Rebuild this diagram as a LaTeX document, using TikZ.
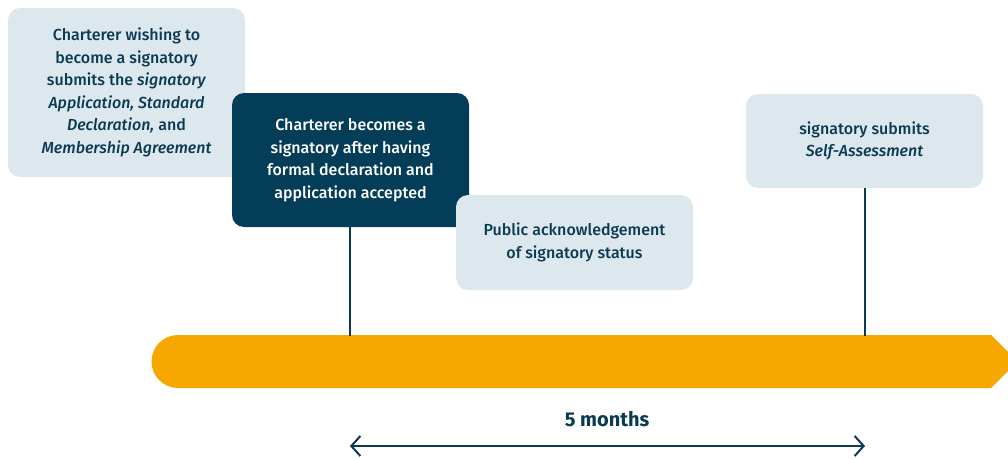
\documentclass[tikz,border=0pt]{standalone}
\usepackage{fontspec}
\setmainfont{Fira Sans}[UprightFont=* Medium, ItalicFont=* Medium Italic, BoldFont=* Bold]
\usetikzlibrary{arrows.meta}
\definecolor{lightbox}{HTML}{DDE7EE}
\definecolor{darkbox}{HTML}{033D57}
\definecolor{ink}{HTML}{0B3B52}
\definecolor{bar}{HTML}{F6A800}
\tikzset{
  card/.style={rectangle, rounded corners=12pt, minimum width=237pt, align=center, inner sep=0pt, font=\fontsize{16}{22.5}\selectfont},
  lightcard/.style={card, fill=lightbox, text=ink},
  darkcard/.style={card, fill=darkbox, text=white},
  stem/.style={draw=ink, line width=1.5pt},
}
\begin{document}
\begin{tikzpicture}[x=1pt,y=-1pt]
\useasboundingbox (0,0) rectangle (1008,458);
\fill[white] (0,0) rectangle (1008,458);
% orange timeline bar
\fill[bar] (178,335) -- (991,335) -- (1017.5,361.5) -- (991,388) -- (178,388) arc[start angle=90, end angle=270, radius=26.5] -- cycle;
\coordinate (t1) at (350,336);
\coordinate (t2) at (865,336);
% cards
\node[lightcard, minimum height=169pt] (c1) at (126.5,92.5) {Charterer wishing to\\become a signatory\\submits the \textit{signatory}\\\textit{Application, Standard}\\\textit{Declaration,} and\\\textit{Membership Agreement}};
\node[darkcard, minimum height=134pt] (c2) at (350.5,160) {Charterer becomes a\\signatory after having\\formal declaration and\\application accepted};
\node[lightcard, minimum height=95pt] (c3) at (574.5,242.5) {Public acknowledgement\\of signatory status};
\node[lightcard, minimum height=94pt] (c4) at (864.5,141) {signatory submits\\\textit{Self-Assessment}};
% stems
\draw[stem] (c2.south -| t1) -- (t1);
\draw[stem] (c4.south -| t2) -- (t2);
% duration
\coordinate (a1) at (350,446);
\coordinate (a2) at (865,446);
\node[text=ink, font=\fontsize{20}{22}\selectfont\bfseries] (dur) at (607,419) {5 months};
\draw[ink, line width=2pt, {Straight Barb[length=9pt,width=20pt,line width=2pt]}-{Straight Barb[length=9pt,width=20pt,line width=2pt]}] (a1) -- (a2);
\end{tikzpicture}
\end{document}
